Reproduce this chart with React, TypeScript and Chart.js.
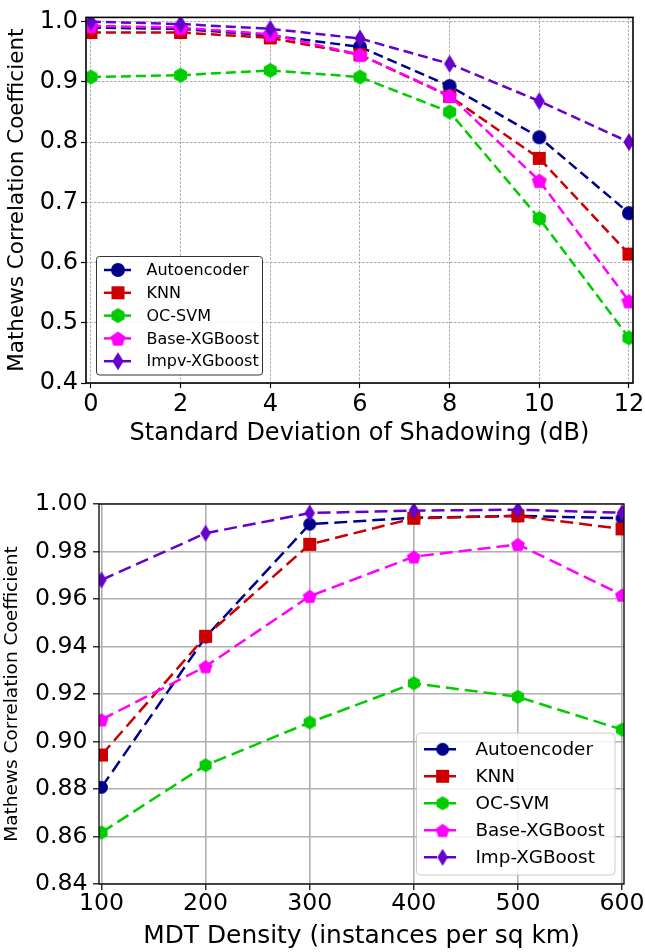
import React, { useEffect, useRef } from 'react';
import { Chart, registerables } from 'chart.js';

Chart.register(...registerables);

const FONT = '"DejaVu Sans", sans-serif';

// ---------- Top chart: shadowing ----------
const shadowX = [0, 2, 4, 6, 8, 10, 12];
const shadowAutoencoder = [0.990, 0.988, 0.977, 0.958, 0.893, 0.808, 0.682];
const shadowKNN = [0.982, 0.982, 0.973, 0.945, 0.876, 0.773, 0.614];
const shadowOCSVM = [0.908, 0.911, 0.919, 0.908, 0.850, 0.673, 0.475];
const shadowBaseXGB = [0.993, 0.990, 0.979, 0.945, 0.877, 0.736, 0.536];
const shadowImpvXGB = [1.000, 0.996, 0.988, 0.972, 0.930, 0.868, 0.800];
const shadowXTicks = [0, 2, 4, 6, 8, 10, 12];
const shadowYTicks = [0.4, 0.5, 0.6, 0.7, 0.8, 0.9, 1.0];
const shadowNames = ['Autoencoder', 'KNN', 'OC-SVM', 'Base-XGBoost', 'Impv-XGboost'];

// ---------- Bottom chart: MDT density ----------
const densityX = [100, 200, 300, 400, 500, 600];
const densAutoencoder = [0.8807, 0.9440, 0.9915, 0.9942, 0.9950, 0.9940];
const densKNN = [0.8943, 0.9443, 0.9830, 0.9940, 0.9950, 0.9895];
const densOCSVM = [0.8617, 0.8900, 0.9080, 0.9245, 0.9188, 0.9050];
const densBaseXGB = [0.9092, 0.9316, 0.9612, 0.9778, 0.9830, 0.9617];
const densImpXGB = [0.9680, 0.9877, 0.9962, 0.9972, 0.9976, 0.9963];
const densityXTicks = [100, 200, 300, 400, 500, 600];
const densityYTicks = [0.84, 0.86, 0.88, 0.90, 0.92, 0.94, 0.96, 0.98, 1.00];
const densityNames = ['Autoencoder', 'KNN', 'OC-SVM', 'Base-XGBoost', 'Imp-XGBoost'];

const seriesColors = ['#00008b', '#cc0000', '#00cc00', '#ff00ff', '#6600cc'];
const seriesShapes = ['circle', 'square', 'hexagon', 'pentagon', 'thinDiamond'];

function makeMarker(shape: string, color: string, size: number): HTMLCanvasElement {
  const pad = 2;
  const r = size / 2;
  const w = Math.ceil(shape === 'thinDiamond' ? size * 0.65 : size) + pad * 2;
  const h = Math.ceil(size) + pad * 2;
  const c = document.createElement('canvas');
  c.width = w;
  c.height = h;
  const ctx = c.getContext('2d')!;
  ctx.fillStyle = color;
  const cx = w / 2;
  const cy = h / 2;
  ctx.beginPath();
  if (shape === 'circle') {
    ctx.arc(cx, cy, r, 0, Math.PI * 2);
  } else if (shape === 'square') {
    ctx.rect(cx - r, cy - r, size, size);
  } else if (shape === 'hexagon') {
    for (let k = 0; k < 6; k++) {
      const a = -Math.PI / 2 + (k * Math.PI) / 3;
      const px = cx + r * Math.cos(a);
      const py = cy + r * Math.sin(a);
      if (k === 0) ctx.moveTo(px, py); else ctx.lineTo(px, py);
    }
  } else if (shape === 'pentagon') {
    const rr = r * 1.05;
    const oy = cy + rr * 0.1;
    for (let k = 0; k < 5; k++) {
      const a = -Math.PI / 2 + (k * 2 * Math.PI) / 5;
      const px = cx + rr * Math.cos(a);
      const py = oy + rr * Math.sin(a);
      if (k === 0) ctx.moveTo(px, py); else ctx.lineTo(px, py);
    }
  } else {
    ctx.moveTo(cx, cy - r);
    ctx.lineTo(cx + r * 0.62, cy);
    ctx.lineTo(cx, cy + r);
    ctx.lineTo(cx - r * 0.62, cy);
  }
  ctx.closePath();
  ctx.fill();
  return c;
}

const framePlugin = {
  id: 'frame',
  afterDatasetsDraw(chart: any, _args: any, opts: any) {
    const { left, top, right, bottom } = chart.chartArea;
    const ctx = chart.ctx;
    ctx.save();
    ctx.strokeStyle = '#000';
    ctx.lineWidth = opts.width || 1.5;
    ctx.setLineDash([]);
    ctx.strokeRect(left, top, right - left, bottom - top);
    ctx.restore();
  },
};

const boxLegendPlugin = {
  id: 'boxLegend',
  afterDraw(chart: any, _args: any, o: any) {
    const ctx = chart.ctx;
    ctx.save();
    const [bx, by, bw, bh] = o.box;
    const rad = o.radius;
    ctx.beginPath();
    ctx.moveTo(bx + rad, by);
    ctx.lineTo(bx + bw - rad, by);
    ctx.arcTo(bx + bw, by, bx + bw, by + rad, rad);
    ctx.lineTo(bx + bw, by + bh - rad);
    ctx.arcTo(bx + bw, by + bh, bx + bw - rad, by + bh, rad);
    ctx.lineTo(bx + rad, by + bh);
    ctx.arcTo(bx, by + bh, bx, by + bh - rad, rad);
    ctx.lineTo(bx, by + rad);
    ctx.arcTo(bx, by, bx + rad, by, rad);
    ctx.closePath();
    ctx.fillStyle = 'rgba(255,255,255,0.85)';
    ctx.fill();
    ctx.strokeStyle = o.border;
    ctx.lineWidth = 1;
    ctx.stroke();
    chart.data.datasets.forEach((ds: any, i: number) => {
      const y = o.rowY0 + i * o.rowGap;
      ctx.strokeStyle = ds.borderColor;
      ctx.lineWidth = ds.borderWidth;
      ctx.setLineDash(o.dash || []);
      ctx.beginPath();
      ctx.moveTo(o.lineX0, y);
      ctx.lineTo(o.lineX1, y);
      ctx.stroke();
      ctx.setLineDash([]);
      const img = ds.pointStyle as HTMLCanvasElement;
      ctx.drawImage(img, o.markerX - img.width / 2, y - img.height / 2);
      ctx.fillStyle = '#000';
      ctx.font = `${o.fontSize}px ${FONT}`;
      ctx.textAlign = 'left';
      ctx.textBaseline = 'middle';
      ctx.fillText(ds.label, o.textX, y + 1);
    });
    ctx.restore();
  },
};

function buildDatasets(xs: number[], series: number[][], names: string[], sizes: number[], width: number, dash: number[]) {
  return series.map((vals, i) => ({
    label: names[i],
    data: xs.map((x, j) => ({ x, y: vals[j] })),
    borderColor: seriesColors[i],
    backgroundColor: seriesColors[i],
    borderWidth: width,
    borderDash: dash,
    pointStyle: makeMarker(seriesShapes[i], seriesColors[i], sizes[i]),
    pointRadius: 6,
    pointBorderWidth: 0,
    tension: 0,
    clip: 0,
    order: series.length - 1 - i,
  }));
}

function topConfig(): any {
  const gridDash = [2.5, 1.5];
  const grid = { color: '#ababab', lineWidth: 1, tickColor: '#000', tickLength: 5, tickWidth: 1.2 };
  return {
    type: 'line',
    data: {
      datasets: buildDatasets(
        shadowX,
        [shadowAutoencoder, shadowKNN, shadowOCSVM, shadowBaseXGB, shadowImpvXGB],
        shadowNames,
        [14, 13, 15, 15, 18],
        2.5,
        [10, 5]
      ),
    },
    options: {
      responsive: false,
      maintainAspectRatio: false,
      devicePixelRatio: 1,
      animation: false,
      layout: { padding: { top: 4, right: 12, left: 0, bottom: 0 } },
      plugins: {
        legend: { display: false },
        tooltip: { enabled: false },
        frame: { width: 1.6 },
        boxLegend: {
          box: [96.5, 256.5, 166, 118.5],
          radius: 3,
          border: '#333333',
          rowY0: 270,
          rowGap: 22.8,
          lineX0: 104,
          lineX1: 131,
          markerX: 118,
          textX: 146.5,
          fontSize: 16,
          dash: [],
        },
      },
      scales: {
        x: {
          type: 'linear',
          min: -0.11,
          max: 12.09,
          afterBuildTicks: (s: any) => { s.ticks = shadowXTicks.map((v) => ({ value: v })); },
          afterFit: (s: any) => { s.height = 62; s.paddingLeft = 0; s.paddingRight = 0; },
          ticks: { font: { family: FONT, size: 24 }, color: '#000', padding: 2, maxRotation: 0, autoSkip: false, callback: (v: any) => String(v) },
          grid,
          border: { display: false, dash: gridDash },
          title: { display: true, text: 'Standard Deviation of Shadowing (dB)', color: '#000', font: { family: FONT, size: 24, lineHeight: 1 }, padding: { top: 0, bottom: -1 } },
        },
        y: {
          type: 'linear',
          min: 0.4,
          max: 1.007,
          afterBuildTicks: (s: any) => { s.ticks = shadowYTicks.map((v) => ({ value: v })); },
          afterFit: (s: any) => { s.width = 86; },
          ticks: { font: { family: FONT, size: 24 }, color: '#000', padding: 3, autoSkip: false, callback: (v: any) => Number(v).toFixed(1) },
          grid,
          border: { display: false, dash: gridDash },
          title: { display: true, text: 'Mathews Correlation Coefficient', color: '#000', font: { family: FONT, size: 21.5, lineHeight: 1 }, padding: { top: 7, bottom: 0 } },
        },
      },
    },
    plugins: [framePlugin, boxLegendPlugin],
  };
}

function bottomConfig(): any {
  const grid = { color: '#b0b0b0', lineWidth: 1.6, tickColor: '#000', tickLength: 6, tickWidth: 1.2 };
  return {
    type: 'line',
    data: {
      datasets: buildDatasets(
        densityX,
        [densAutoencoder, densKNN, densOCSVM, densBaseXGB, densImpXGB],
        densityNames,
        [13, 13, 14, 14, 17],
        2.5,
        [13, 6]
      ),
    },
    options: {
      responsive: false,
      maintainAspectRatio: false,
      devicePixelRatio: 1,
      animation: false,
      layout: { padding: { top: 54, right: 21, left: 0, bottom: 0 } },
      plugins: {
        legend: { display: false },
        tooltip: { enabled: false },
        frame: { width: 1.3 },
        boxLegend: {
          box: [416.5, 283, 198.5, 142],
          radius: 4,
          border: '#cccccc',
          rowY0: 299.3,
          rowGap: 27,
          lineX0: 424,
          lineX1: 461,
          markerX: 442.6,
          textX: 475.4,
          fontSize: 18.4,
          dash: [13, 6],
        },
      },
      scales: {
        x: {
          type: 'linear',
          min: 97.6,
          max: 601.9,
          afterBuildTicks: (s: any) => { s.ticks = densityXTicks.map((v) => ({ value: v })); },
          afterFit: (s: any) => { s.height = 68; s.paddingLeft = 0; s.paddingRight = 0; },
          ticks: { font: { family: FONT, size: 23.6 }, color: '#000', padding: 0, maxRotation: 0, autoSkip: false, callback: (v: any) => String(v) },
          grid,
          border: { display: false },
          title: { display: true, text: 'MDT Density (instances per sq km)', color: '#000', font: { family: FONT, size: 24.9, lineHeight: 1 }, padding: { top: 0, bottom: 3.5 } },
        },
        y: {
          type: 'linear',
          min: 0.84,
          max: 1.0,
          afterBuildTicks: (s: any) => { s.ticks = densityYTicks.map((v) => ({ value: v })); },
          afterFit: (s: any) => { s.width = 99; },
          ticks: { font: { family: FONT, size: 23.6 }, color: '#000', padding: 5.5, autoSkip: false, callback: (v: any) => Number(v).toFixed(2) },
          grid,
          border: { display: false },
          title: { display: true, text: 'Mathews Correlation Coefficient', color: '#000', font: { family: FONT, size: 18.5, lineHeight: 1 }, padding: { top: 3, bottom: 0 } },
        },
      },
    },
    plugins: [framePlugin, boxLegendPlugin],
  };
}

export default function App() {
  const topRef = useRef<HTMLCanvasElement>(null);
  const botRef = useRef<HTMLCanvasElement>(null);
  useEffect(() => {
    const c1 = new Chart(topRef.current as HTMLCanvasElement, topConfig());
    const c2 = new Chart(botRef.current as HTMLCanvasElement, bottomConfig());
    return () => {
      c1.destroy();
      c2.destroy();
    };
  }, []);
  return (
    <div style={{ position: 'absolute', left: 0, top: 0, width: 645, height: 952, background: '#fff' }}>
      <canvas ref={topRef} width={645} height={445} style={{ position: 'absolute', left: 0, top: 0, width: 645, height: 445, display: 'block' }} />
      <canvas ref={botRef} width={645} height={502} style={{ position: 'absolute', left: 0, top: 450, width: 645, height: 502, display: 'block' }} />
    </div>
  );
}
